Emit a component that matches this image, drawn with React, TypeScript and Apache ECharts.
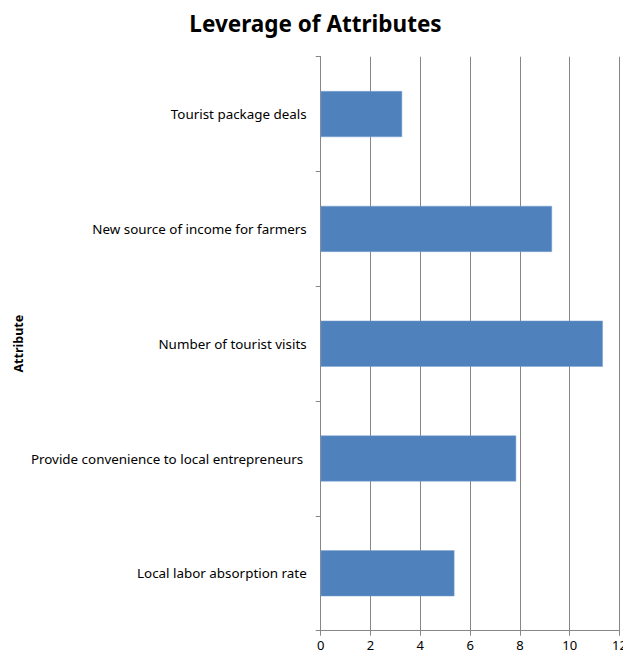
import React, { useEffect, useRef } from "react";
import * as echarts from "echarts";

const categories = [
  "Local labor absorption rate",
  "Provide convenience to local entrepreneurs ",
  "Number of tourist visits",
  "New source of income for farmers",
  "Tourist package deals",
];
const values = [5.37, 7.85, 11.33, 9.29, 3.27];
const xMin = 0;
const xMax = 12;
const xStep = 2;

export default function App() {
  const ref = useRef<HTMLDivElement>(null);
  useEffect(() => {
    document.body.style.margin = "0";
    document.body.style.overflow = "hidden";
    const chart = echarts.init(ref.current!, null, { renderer: "svg" });
    const font = "Noto Sans";
    chart.setOption({
      animation: false,
      backgroundColor: "#ffffff",
      title: {
        text: "Leverage of Attributes",
        left: 310.5,
        textAlign: "center",
        top: 7,
        textStyle: { fontFamily: font, fontWeight: "bold", fontSize: 22.5, color: "#000" },
      },
      grid: {
        left: 320.7,
        right: 3.5,
        top: 56.7,
        bottom: 26.3,
        containLabel: false,
        outerBoundsMode: "none",
      },
      xAxis: {
        type: "value",
        min: xMin,
        max: xMax,
        interval: xStep,
        axisLine: { show: true, lineStyle: { color: "#868686", width: 1 } },
        axisTick: { show: true, length: 5, lineStyle: { color: "#868686" } },
        splitLine: { show: true, lineStyle: { color: "#868686", width: 1 } },
        axisLabel: { color: "#000", fontFamily: font, fontSize: 13, margin: 8, showMaxLabel: true },
      },
      yAxis: {
        type: "category",
        data: categories,
        name: "Attribute",
        nameLocation: "middle",
        nameRotate: 90,
        nameGap: 296,
        nameTextStyle: { fontFamily: font, fontWeight: "bold", fontSize: 12.5, color: "#000" },
        axisLine: { show: true, lineStyle: { color: "#868686", width: 1 } },
        axisTick: { show: true, length: 5, alignWithLabel: false, lineStyle: { color: "#868686" } },
        axisLabel: { color: "#000", fontFamily: font, fontSize: 13.4, margin: 14 },
      },
      series: [
        {
          type: "bar",
          data: values,
          barWidth: 46,
          itemStyle: { color: "#4F81BD", borderColor: "#7fa3d0", borderWidth: 0.5 },
        },
      ],
    });
    return () => chart.dispose();
  }, []);
  return (
    <div
      ref={ref}
      style={{ position: "fixed", left: 0, top: 0, width: 623, height: 657 }}
    />
  );
}
